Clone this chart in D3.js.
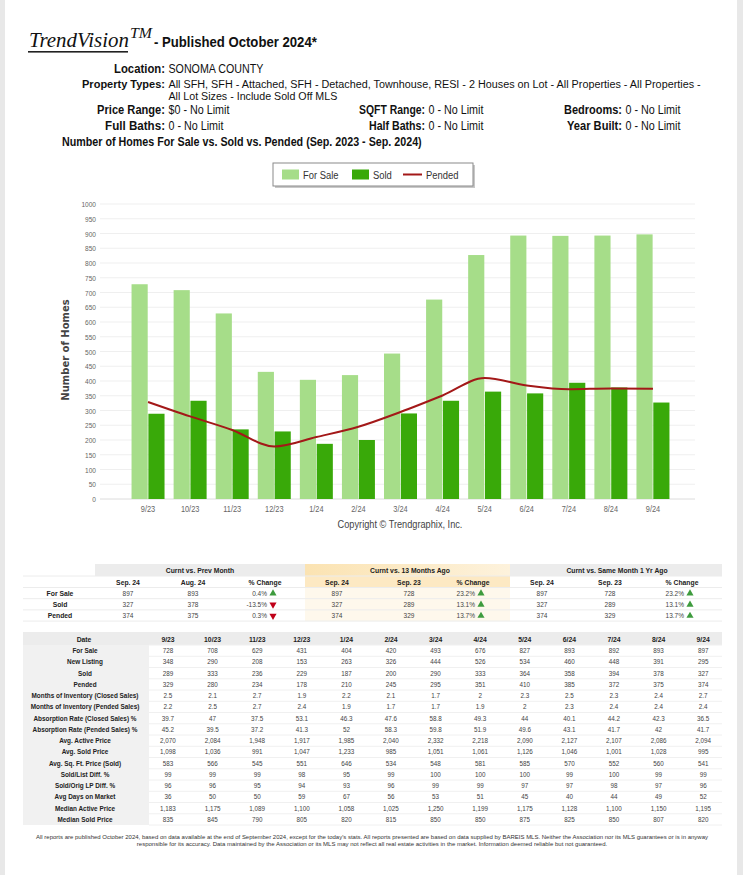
<!DOCTYPE html>
<html><head><meta charset="utf-8">
<script src="https://cdn.jsdelivr.net/npm/d3@7"></script>
<style>body{margin:0;background:#fff;}svg{display:block}</style>
</head><body>
<svg id="c" width="743" height="875"></svg>
<script>
// ---------------- DATA ----------------
const months   = ["9/23","10/23","11/23","12/23","1/24","2/24","3/24","4/24","5/24","6/24","7/24","8/24","9/24"];
const forSale  = [728,708,629,431,404,420,493,676,827,893,892,893,897];
const sold     = [289,333,236,229,187,200,290,333,364,358,394,378,327];
const pended   = [329,280,234,178,210,245,295,351,410,385,372,375,374];
const yTicks   = [0,50,100,150,200,250,300,350,400,450,500,550,600,650,700,750,800,850,900,950,1000];

// comparison table
const cmpGroups   = ["Curnt vs. Prev Month","Curnt vs. 13 Months Ago","Curnt vs. Same Month 1 Yr Ago"];
const cmpHeads    = ["Sep. 24","Aug. 24","% Change","Sep. 24","Sep. 23","% Change","Sep. 24","Sep. 23","% Change"];
const cmpRows     = ["For Sale","Sold","Pended"];
const cmpForSale  = ["897","893","0.4%","897","728","23.2%","897","728","23.2%"];
const cmpSold     = ["327","378","-13.5%","327","289","13.1%","327","289","13.1%"];
const cmpPended   = ["374","375","0.3%","374","329","13.7%","374","329","13.7%"];
const cmpDirs     = [["up","up","up"],["down","up","up"],["down","up","up"]];

// monthly table
const tLabels = ["For Sale","New Listing","Sold","Pended","Months of Inventory (Closed Sales)","Months of Inventory (Pended Sales)",
  "Absorption Rate (Closed Sales) %","Absorption Rate (Pended Sales) %","Avg. Active Price","Avg. Sold Price","Avg. Sq. Ft. Price (Sold)",
  "Sold/List Diff. %","Sold/Orig LP Diff. %","Avg Days on Market","Median Active Price","Median Sold Price"];
const tForSale    = ["728","708","629","431","404","420","493","676","827","893","892","893","897"];
const tNewListing = ["348","290","208","153","263","326","444","526","534","460","448","391","295"];
const tSold       = ["289","333","236","229","187","200","290","333","364","358","394","378","327"];
const tPended     = ["329","280","234","178","210","245","295","351","410","385","372","375","374"];
const tMoiClosed  = ["2.5","2.1","2.7","1.9","2.2","2.1","1.7","2","2.3","2.5","2.3","2.4","2.7"];
const tMoiPended  = ["2.2","2.5","2.7","2.4","1.9","1.7","1.7","1.9","2","2.3","2.4","2.4","2.4"];
const tAbsClosed  = ["39.7","47","37.5","53.1","46.3","47.6","58.8","49.3","44","40.1","44.2","42.3","36.5"];
const tAbsPended  = ["45.2","39.5","37.2","41.3","52","58.3","59.8","51.9","49.6","43.1","41.7","42","41.7"];
const tAvgActive  = ["2,070","2,084","1,948","1,917","1,985","2,040","2,332","2,218","2,090","2,127","2,107","2,086","2,094"];
const tAvgSold    = ["1,098","1,036","991","1,047","1,233","985","1,051","1,061","1,126","1,046","1,001","1,028","995"];
const tAvgSqft    = ["583","566","545","551","646","534","548","581","585","570","552","560","541"];
const tSoldList   = ["99","99","99","98","95","99","100","100","100","99","100","99","99"];
const tSoldOrig   = ["96","96","95","94","93","96","99","99","97","97","98","97","96"];
const tDays       = ["36","50","50","59","67","56","53","51","45","40","44","49","52"];
const tMedActive  = ["1,183","1,175","1,089","1,100","1,058","1,025","1,250","1,199","1,175","1,128","1,100","1,150","1,195"];
const tMedSold    = ["835","845","790","805","820","815","850","850","875","825","850","807","820"];

// ---------------- DRAW ----------------
const SANS = "'Liberation Sans',Arial,sans-serif";
const SERIF = "'Liberation Serif','Times New Roman',serif";
const svg = d3.select("#c");

svg.append("rect").attr("width",743).attr("height",875).attr("fill","#fff");
svg.append("rect").attr("x",0).attr("width",5).attr("height",875).attr("fill","#e8e8e8");
svg.append("rect").attr("x",737).attr("width",6).attr("height",875).attr("fill","#e8e8e8");

function squeeze(node, k, x, y){
  d3.select(node).attr("x",0).attr("y",0).attr("transform",`translate(${x},${y}) scale(${k},1)`);
}
function T(x,y,s,o={}){
  const t = svg.append("text").attr("x",x).attr("y",y).text(s)
    .attr("font-family",o.ff||SANS).attr("font-size",o.fs||13)
    .attr("font-weight",o.fw||"normal").attr("fill",o.fill||"#111")
    .attr("text-anchor",o.anchor||"start");
  if(o.italic) t.attr("font-style","italic");
  if(o.w || o.narrow){
    const w0 = t.node().getComputedTextLength();
    const k = o.w ? o.w/w0 : o.narrow;
    squeeze(t.node(),k,x,y);
  }
  return t;
}
const N = 0.82;

// Header
T(29,47,"TrendVision",{ff:SERIF,fs:21,italic:true,w:100});
T(130,38,"TM",{ff:SERIF,fs:14,italic:true,w:22});
T(154,47,"- Published October 2024*",{fs:15,fw:"bold",w:163});
svg.append("rect").attr("x",28).attr("y",51).attr("width",100).attr("height",1.6).attr("fill","#222");

const info = [
  {lx:165,y:72.5,l:"Location:",lw:51,v:"SONOMA COUNTY",vw:95,fs:13},
  {lx:165,y:87.5,l:"Property Types:",lw:83,v:"All SFH, SFH - Attached, SFH - Detached, Townhouse, RESI - 2 Houses on Lot - All Properties - All Properties -",vw:533,fs:11},
  {lx:165,y:99.8,l:"",v:"All Lot Sizes - Include Sold Off MLS",vw:169,fs:11},
  {lx:165,y:113.5,l:"Price Range:",lw:68,v:"$0 - No Limit",vw:61,fs:13},
  {lx:425,y:113.5,l:"SQFT Range:",lw:66,v:"0 - No Limit",vw:55,fs:13},
  {lx:622,y:113.5,l:"Bedrooms:",lw:58,v:"0 - No Limit",vw:55,fs:13},
  {lx:165,y:129.5,l:"Full Baths:",lw:60,v:"0 - No Limit",vw:55,fs:13},
  {lx:425,y:129.5,l:"Half Baths:",lw:56,v:"0 - No Limit",vw:55,fs:13},
  {lx:622,y:129.5,l:"Year Built:",lw:55,v:"0 - No Limit",vw:55,fs:13}
];
info.forEach(d=>{
  if(d.l) T(d.lx,d.y,d.l,{fw:"bold",anchor:"end",fs:d.fs,w:d.lw});
  T(d.lx+3.5,d.y,d.v,{fs:d.fs,w:d.vw});
});
T(62,146,"Number of Homes For Sale vs. Sold vs. Pended (Sep. 2023 - Sep. 2024)",{fw:"bold",fs:13,w:360});

// Chart
const LIGHT="#a6dd89", DARK="#39a909", RED="#a31818";
const x = d3.scaleBand().domain(months).range([127,674]).paddingInner(0.216).paddingOuter(0.108);
const xs = d3.scaleBand().domain(["forSale","sold"]).range([0,x.bandwidth()]).paddingInner(0.04);
const y = d3.scaleLinear().domain([0,1000]).range([499,204]);

const g = svg.append("g");
g.selectAll("line.grid").data(yTicks).join("line").attr("class","grid")
  .attr("x1",100).attr("x2",695).attr("y1",d=>y(d)).attr("y2",d=>y(d))
  .attr("stroke",d=>d===0?"#dcdcdc":"#efefef").attr("stroke-width",1);

g.selectAll("rect.fs").data(forSale).join("rect").attr("class","fs")
  .attr("x",(d,i)=>x(months[i])+xs("forSale")).attr("width",xs.bandwidth())
  .attr("y",d=>y(d)).attr("height",d=>y(0)-y(d)).attr("fill",LIGHT);
g.selectAll("rect.sd").data(sold).join("rect").attr("class","sd")
  .attr("x",(d,i)=>x(months[i])+xs("sold")).attr("width",xs.bandwidth())
  .attr("y",d=>y(d)).attr("height",d=>y(0)-y(d)).attr("fill",DARK);

const line = d3.line().x((d,i)=>x(months[i])+x.bandwidth()/2).y(d=>y(d)).curve(d3.curveMonotoneX);
g.append("path").datum(pended).attr("d",line).attr("fill","none").attr("stroke",RED).attr("stroke-width",2);

const ya = g.append("g").attr("transform","translate(100,0)")
  .call(d3.axisLeft(y).tickValues(yTicks).tickSize(0).tickPadding(4).tickFormat(d3.format("d")));
ya.select(".domain").remove();
ya.selectAll("text").attr("font-family",SANS).attr("font-size",8).attr("fill","#666")
  .attr("transform","scale(0.82,1)").attr("x",-4/0.82);

const xa = g.append("g").attr("transform","translate(0,499)")
  .call(d3.axisBottom(x).tickSize(0).tickPadding(7));
xa.select(".domain").remove();
xa.selectAll("text").attr("font-family",SANS).attr("font-size",9).attr("fill","#666")
  .attr("transform","scale(0.82,1)");

svg.append("text").attr("transform","translate(69,350) rotate(-90)").attr("text-anchor","middle")
  .attr("font-family","'DejaVu Sans',Verdana,sans-serif").attr("font-weight","bold").attr("font-size",10)
  .attr("fill","#444").text("Number of Homes");

// Legend
svg.append("rect").attr("x",275).attr("y",165).attr("width",200).attr("height",23).attr("fill","#c8c8c8");
svg.append("rect").attr("x",273).attr("y",163).attr("width",200).attr("height",23).attr("fill","#fff").attr("stroke","#8a8a8a").attr("stroke-width",1);
svg.append("rect").attr("x",282).attr("y",169.5).attr("width",17).attr("height",10).attr("fill",LIGHT);
T(303,178.5,"For Sale",{fs:11.5,fill:"#333",narrow:N});
svg.append("rect").attr("x",352).attr("y",169.5).attr("width",17).attr("height",10).attr("fill",DARK);
T(373,178.5,"Sold",{fs:11.5,fill:"#333",narrow:N});
svg.append("line").attr("x1",403).attr("x2",422).attr("y1",174.5).attr("y2",174.5).attr("stroke",RED).attr("stroke-width",2);
T(426,178.5,"Pended",{fs:11.5,fill:"#333",narrow:N});

T(400,528,"Copyright \u00A9 Trendgraphix, Inc.",{fs:10.5,fill:"#444",anchor:"middle",w:125});

// ---------- Comparison table ----------
const c1x = [128,193,265,337,409,473,542,610,682];
const gcx = [200,410,617];
svg.append("rect").attr("x",95).attr("y",564).attr("width",627).attr("height",12).attr("fill","#ececec");
const yel = svg.append("defs").append("linearGradient").attr("id","yel").attr("x1",0).attr("x2",1);
yel.append("stop").attr("offset",0).attr("stop-color","#fbe3b2");
yel.append("stop").attr("offset",1).attr("stop-color","#fdf2dc");
svg.append("rect").attr("x",305).attr("y",564).attr("width",205).attr("height",12).attr("fill","url(#yel)");
svg.append("rect").attr("x",305).attr("y",576).attr("width",205).attr("height",11.5).attr("fill","#fde9c3");
svg.append("rect").attr("x",305).attr("y",587.5).attr("width",205).attr("height",33.6).attr("fill","#fef8ec");
gcx.forEach((cx,i)=>T(cx,572.5,cmpGroups[i],{fs:6.8,fw:"bold",fill:"#222",anchor:"middle"}));
c1x.forEach((cx,i)=>T(cx,584.5,cmpHeads[i],{fs:6.8,fw:"bold",fill:"#222",anchor:"middle"}));
const cmpVals=[cmpForSale,cmpSold,cmpPended];
[576,587.5,598.7,609.9,621.1].forEach(yy=>svg.append("line").attr("x1",23).attr("x2",722).attr("y1",yy).attr("y2",yy).attr("stroke","#ececec"));
cmpRows.forEach((r,ri)=>{
  const yy = 596 + ri*11.2;
  T(60,yy,r,{fs:6.8,fw:"bold",fill:"#222",anchor:"middle"});
  cmpVals[ri].forEach((v,ci)=>{
    if(ci%3===2){
      T(c1x[ci]+2,yy,v,{fs:6.5,fill:"#444",anchor:"end"});
      const dir=cmpDirs[ri][Math.floor(ci/3)];
      svg.append("path").attr("d",d3.symbol(d3.symbolTriangle,22)())
        .attr("transform",`translate(${c1x[ci]+8},${yy-2.6}) rotate(${dir==="up"?0:180})`)
        .attr("fill",dir==="up"?"#3e9b3e":"#c00018");
    } else {
      T(c1x[ci],yy,v,{fs:6.5,fill:"#444",anchor:"middle"});
    }
  });
});

// ---------- Monthly table ----------
const tRows=[tForSale,tNewListing,tSold,tPended,tMoiClosed,tMoiPended,tAbsClosed,tAbsPended,tAvgActive,tAvgSold,tAvgSqft,tSoldList,tSoldOrig,tDays,tMedActive,tMedSold];
const colX = d3.scalePoint().domain(months).range([168,703.2]);
const rowH = 11.25, top2 = 645;
svg.append("rect").attr("x",23).attr("y",632).attr("width",699).attr("height",13).attr("fill","#ececec");
svg.append("rect").attr("x",23).attr("y",645).attr("width",126).attr("height",rowH*16).attr("fill","#f1f1f1");
for(let i=0;i<=16;i++){
  svg.append("line").attr("x1",149).attr("x2",722).attr("y1",top2+i*rowH).attr("y2",top2+i*rowH).attr("stroke","#f0f0f0");
}
T(84,641.5,"Date",{fs:6.8,fw:"bold",fill:"#222",anchor:"middle"});
months.forEach(m=>T(colX(m),641.5,m,{fs:6.8,fw:"bold",fill:"#222",anchor:"middle"}));
tLabels.forEach((l,ri)=>{
  const yy = top2 + ri*rowH + 8;
  T(85,yy,l,{fs:6.4,fw:"bold",fill:"#222",anchor:"middle"});
  tRows[ri].forEach((v,ci)=>T(colX(months[ci]),yy,v,{fs:6.3,fill:"#444",anchor:"middle"}));
});

// Footer
T(372,839,"All reports are published October 2024, based on data available at the end of September 2024, except for the today's stats. All reports presented are based on data supplied by BAREIS MLS. Neither the Association nor its MLS guarantees or is in anyway",{fs:5.8,fill:"#333",anchor:"middle",w:673});
T(372,845.5,"responsible for its accuracy. Data maintained by the Association or its MLS may not reflect all real estate activities in the market. Information deemed reliable but not guaranteed.",{fs:5.8,fill:"#333",anchor:"middle",w:471});
</script>
</body></html>
